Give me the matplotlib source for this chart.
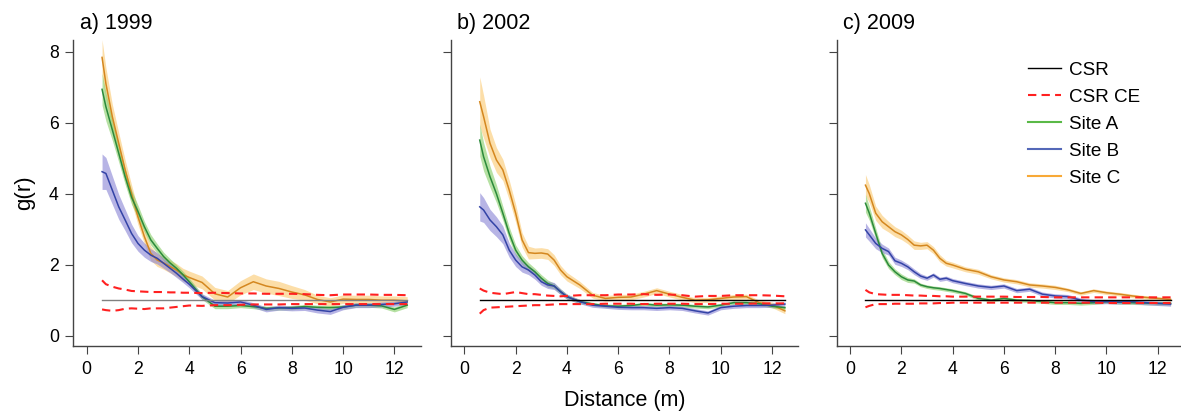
import matplotlib

matplotlib.use("Agg")
import matplotlib.pyplot as plt
from matplotlib.lines import Line2D
import numpy as np

plt.rcParams["font.family"] = ["Liberation Sans", "DejaVu Sans"]

# distance grid (m) shared by all curves
distance = [0.6, 0.75, 1.0, 1.25, 1.5, 1.75, 2.0, 2.25, 2.5, 2.75, 3.0, 3.25, 3.5, 3.75,
            4.0, 4.5, 5.0, 5.5, 6.0, 6.5, 7.0, 7.5, 8.0, 8.5, 9.0, 9.5, 10.0, 10.5,
            11.0, 11.5, 12.0, 12.5]

years = ["a) 1999", "b) 2002", "c) 2009"]
sites = ["Site A", "Site B", "Site C"]

# ---- 1999 ----
site_a_1999 = [6.94, 6.45, 5.8, 5.14, 4.48, 3.9, 3.5, 3.07, 2.7, 2.46, 2.23, 2.05, 1.9, 1.72,
               1.52, 1.1, 0.83, 0.83, 0.85, 0.82, 0.77, 0.78, 0.79, 0.82, 0.8, 0.79, 0.81,
               0.86, 0.86, 0.84, 0.74, 0.86]
site_b_1999 = [4.62, 4.57, 4.1, 3.63, 3.26, 2.88, 2.6, 2.41, 2.27, 2.18, 2.04, 1.9, 1.76, 1.6,
               1.45, 1.1, 0.93, 0.92, 0.95, 0.86, 0.74, 0.79, 0.77, 0.78, 0.72, 0.68, 0.8,
               0.86, 0.86, 0.88, 0.9, 0.95]
site_c_1999 = [7.84, 7.1, 6.17, 5.42, 4.67, 4.0, 3.35, 2.79, 2.32, 2.13, 2.05, 1.95, 1.85, 1.72,
               1.64, 1.5, 1.18, 1.09, 1.35, 1.52, 1.4, 1.33, 1.23, 1.15, 1.02, 0.95, 1.03,
               1.02, 1.02, 1.0, 1.0, 0.98]
site_a_1999_ci = [0.45, 0.4, 0.3, 0.25, 0.22, 0.2, 0.18, 0.15, 0.15, 0.13, 0.12, 0.12, 0.1, 0.1,
                  0.1, 0.08, 0.07, 0.07, 0.06, 0.06, 0.06, 0.06, 0.06, 0.06, 0.06, 0.06, 0.06,
                  0.06, 0.06, 0.06, 0.07, 0.07]
site_b_1999_ci = [0.5, 0.45, 0.4, 0.35, 0.3, 0.26, 0.22, 0.2, 0.18, 0.16, 0.14, 0.12, 0.12, 0.1,
                  0.1, 0.08, 0.07, 0.07, 0.07, 0.07, 0.07, 0.07, 0.07, 0.07, 0.08, 0.08, 0.07,
                  0.07, 0.07, 0.07, 0.07, 0.07]
site_c_1999_ci = [0.5, 0.45, 0.35, 0.3, 0.28, 0.25, 0.22, 0.2, 0.2, 0.18, 0.18, 0.18, 0.18, 0.18,
                  0.18, 0.18, 0.18, 0.18, 0.2, 0.22, 0.2, 0.2, 0.18, 0.15, 0.12, 0.12, 0.12,
                  0.12, 0.12, 0.12, 0.12, 0.12]
csr_hi_1999 = [1.56, 1.45, 1.38, 1.33, 1.3, 1.26, 1.25, 1.24, 1.23, 1.23, 1.23, 1.22, 1.22, 1.21,
               1.21, 1.2, 1.21, 1.2, 1.19, 1.19, 1.18, 1.18, 1.18, 1.17, 1.15, 1.14, 1.16, 1.16,
               1.16, 1.15, 1.15, 1.14]
csr_lo_1999 = [0.74, 0.72, 0.7, 0.72, 0.76, 0.77, 0.76, 0.75, 0.77, 0.77, 0.77, 0.79, 0.81, 0.83,
               0.85, 0.84, 0.86, 0.86, 0.87, 0.88, 0.88, 0.88, 0.89, 0.89, 0.89, 0.89, 0.89, 0.89,
               0.89, 0.89, 0.89, 0.89]

# ---- 2002 ----
site_a_2002 = [5.51, 5.04, 4.48, 4.0, 3.45, 2.88, 2.41, 2.13, 1.94, 1.8, 1.62, 1.47, 1.4, 1.24,
               1.1, 0.96, 0.89, 0.84, 0.83, 0.85, 0.89, 0.86, 0.87, 0.86, 0.83, 0.81, 0.86,
               0.93, 0.93, 0.9, 0.83, 0.79]
site_b_2002 = [3.63, 3.54, 3.26, 3.07, 2.84, 2.41, 2.13, 1.94, 1.85, 1.71, 1.52, 1.43, 1.4, 1.24,
               1.1, 0.96, 0.86, 0.83, 0.8, 0.79, 0.79, 0.77, 0.79, 0.77, 0.7, 0.64, 0.79, 0.83,
               0.85, 0.85, 0.86, 0.89]
site_c_2002 = [6.59, 6.17, 5.42, 4.95, 4.67, 4.1, 3.45, 2.7, 2.34, 2.32, 2.33, 2.3, 2.13, 1.85,
               1.66, 1.43, 1.14, 1.05, 1.08, 1.09, 1.17, 1.27, 1.17, 1.08, 1.0, 1.01, 1.05, 1.09,
               1.1, 0.93, 0.87, 0.7]
site_a_2002_ci = [0.45, 0.4, 0.3, 0.25, 0.2, 0.18, 0.15, 0.13, 0.12, 0.1, 0.1, 0.1, 0.08, 0.08,
                  0.07, 0.06, 0.05, 0.05, 0.05, 0.05, 0.05, 0.05, 0.05, 0.05, 0.05, 0.05, 0.05,
                  0.05, 0.05, 0.05, 0.05, 0.05]
site_b_2002_ci = [0.4, 0.35, 0.3, 0.28, 0.25, 0.2, 0.18, 0.15, 0.13, 0.12, 0.1, 0.1, 0.1, 0.08,
                  0.07, 0.06, 0.06, 0.06, 0.06, 0.06, 0.06, 0.06, 0.06, 0.06, 0.06, 0.06, 0.06,
                  0.06, 0.06, 0.06, 0.06, 0.06]
site_c_2002_ci = [0.7, 0.6, 0.4, 0.35, 0.3, 0.28, 0.25, 0.2, 0.18, 0.15, 0.15, 0.15, 0.15, 0.13,
                  0.12, 0.1, 0.08, 0.08, 0.08, 0.08, 0.08, 0.08, 0.08, 0.08, 0.07, 0.07, 0.07,
                  0.07, 0.07, 0.07, 0.08, 0.08]
csr_hi_2002 = [1.33, 1.27, 1.21, 1.19, 1.17, 1.2, 1.23, 1.2, 1.17, 1.17, 1.15, 1.13, 1.12, 1.11,
               1.12, 1.14, 1.14, 1.14, 1.16, 1.16, 1.17, 1.15, 1.16, 1.14, 1.1, 1.12, 1.12, 1.14,
               1.14, 1.14, 1.13, 1.11]
csr_lo_2002 = [0.62, 0.72, 0.79, 0.8, 0.81, 0.82, 0.83, 0.84, 0.85, 0.86, 0.86, 0.87, 0.88, 0.89,
               0.89, 0.89, 0.89, 0.9, 0.9, 0.9, 0.89, 0.9, 0.9, 0.9, 0.89, 0.89, 0.9, 0.9, 0.9,
               0.91, 0.91, 0.91]

# ---- 2009 ----
site_a_2009 = [3.73, 3.45, 2.88, 2.32, 1.99, 1.8, 1.66, 1.57, 1.54, 1.43, 1.38, 1.35, 1.33, 1.3,
               1.27, 1.19, 1.05, 1.0, 1.05, 1.0, 0.99, 0.96, 0.93, 0.93, 0.91, 0.93, 0.96, 0.94,
               0.93, 0.92, 0.91, 0.91]
site_b_2009 = [2.98, 2.84, 2.6, 2.46, 2.37, 2.11, 2.04, 1.94, 1.8, 1.68, 1.62, 1.71, 1.59, 1.62,
               1.55, 1.47, 1.4, 1.36, 1.4, 1.27, 1.31, 1.17, 1.12, 1.1, 1.0, 0.96, 0.96, 0.95,
               0.96, 0.93, 0.91, 0.89]
site_c_2009 = [4.24, 4.0, 3.45, 3.21, 3.07, 2.93, 2.84, 2.71, 2.55, 2.53, 2.55, 2.41, 2.18, 2.04,
               1.99, 1.87, 1.8, 1.66, 1.57, 1.52, 1.43, 1.4, 1.36, 1.29, 1.19, 1.27, 1.21, 1.17,
               1.12, 1.08, 1.05, 1.02]
site_a_2009_ci = [0.25, 0.2, 0.15, 0.12, 0.1, 0.08, 0.08, 0.07, 0.06, 0.05, 0.05, 0.05, 0.05,
                  0.05, 0.05, 0.05, 0.05, 0.05, 0.05, 0.05, 0.05, 0.05, 0.05, 0.05, 0.05, 0.05,
                  0.05, 0.05, 0.05, 0.05, 0.05, 0.05]
site_b_2009_ci = [0.2, 0.18, 0.15, 0.12, 0.1, 0.1, 0.09, 0.08, 0.08, 0.07, 0.06, 0.06, 0.06,
                  0.06, 0.06, 0.06, 0.06, 0.06, 0.06, 0.06, 0.06, 0.06, 0.06, 0.06, 0.06, 0.06,
                  0.06, 0.06, 0.06, 0.06, 0.06, 0.06]
site_c_2009_ci = [0.3, 0.25, 0.2, 0.18, 0.15, 0.14, 0.13, 0.12, 0.12, 0.1, 0.1, 0.1, 0.1, 0.08,
                  0.08, 0.07, 0.07, 0.06, 0.06, 0.06, 0.06, 0.06, 0.06, 0.05, 0.05, 0.05, 0.05,
                  0.05, 0.05, 0.05, 0.05, 0.05]
csr_hi_2009 = [1.29, 1.22, 1.17, 1.16, 1.15, 1.15, 1.15, 1.14, 1.13, 1.13, 1.12, 1.12, 1.11, 1.11,
               1.1, 1.1, 1.1, 1.1, 1.1, 1.09, 1.09, 1.09, 1.08, 1.08, 1.08, 1.08, 1.08, 1.08,
               1.08, 1.08, 1.08, 1.08]
csr_lo_2009 = [0.8, 0.84, 0.89, 0.89, 0.89, 0.9, 0.9, 0.9, 0.9, 0.91, 0.91, 0.91, 0.92, 0.92,
               0.93, 0.93, 0.93, 0.93, 0.93, 0.93, 0.93, 0.93, 0.93, 0.93, 0.93, 0.93, 0.92, 0.92,
               0.92, 0.92, 0.92, 0.92]

panels = [
    ([site_a_1999, site_b_1999, site_c_1999],
     [site_a_1999_ci, site_b_1999_ci, site_c_1999_ci], csr_hi_1999, csr_lo_1999),
    ([site_a_2002, site_b_2002, site_c_2002],
     [site_a_2002_ci, site_b_2002_ci, site_c_2002_ci], csr_hi_2002, csr_lo_2002),
    ([site_a_2009, site_b_2009, site_c_2009],
     [site_a_2009_ci, site_b_2009_ci, site_c_2009_ci], csr_hi_2009, csr_lo_2009),
]

line_colors = ["#2b8a3b", "#3343a6", "#d4871f"]
band_colors = ["#86cd66", "#8883d4", "#fbc86e"]
legend_colors = ["#5ab947", "#5468b8", "#f8a937"]
csr_colors = ["#808080", "black", "black"]

fig = plt.figure(figsize=(11.81, 4.11), dpi=100)
x = np.array(distance)

lefts = [0.0621, 0.3819, 0.7085]
axes = []
for i, (curves, cis, hi, lo) in enumerate(panels):
    ax = fig.add_axes([lefts[i], 0.1582, 0.2942, 0.7445])
    axes.append(ax)

    # Site C band first (bottom), then A and B
    for k in [2, 0, 1]:
        y = np.array(curves[k])
        e = np.array(cis[k])
        ax.fill_between(x, y - e, y + e, color=band_colors[k], alpha=0.6, lw=0)
    for k in [2, 0, 1]:
        ax.plot(x, curves[k], color=line_colors[k], lw=1.1)

    ax.plot([x[0], x[-1]], [1, 1], color=csr_colors[i], lw=1.0)
    ax.plot(x, hi, color="#ff2020", lw=1.5, dashes=(4, 2.5))
    ax.plot(x, lo, color="#ff2020", lw=1.5, dashes=(4, 2.5))

    ax.set_xlim(-0.52, 13.03)
    ax.set_ylim(-0.29, 8.33)
    ax.set_xticks([0, 2, 4, 6, 8, 10, 12])
    ax.set_yticks([0, 2, 4, 6, 8])
    ax.spines["top"].set_visible(False)
    ax.spines["right"].set_visible(False)
    for s in ["left", "bottom"]:
        ax.spines[s].set_color("#444444")
        ax.spines[s].set_linewidth(1.0)
    ax.tick_params(length=5.5, width=0.8, color="#444444", labelsize=12.7, pad=5)
    if i > 0:
        ax.tick_params(axis="y", labelleft=False)
    ax.text(0.018, 1.036, years[i], transform=ax.transAxes, fontsize=15.5,
            va="baseline", ha="left")

handles = [
    Line2D([], [], color="black", lw=1.0),
    Line2D([], [], color="#ff2020", lw=1.5, dashes=(4, 2.5)),
    Line2D([], [], color=legend_colors[0], lw=1.5),
    Line2D([], [], color=legend_colors[1], lw=1.5),
    Line2D([], [], color=legend_colors[2], lw=1.5),
]
labels = ["CSR", "CSR CE"] + sites
axes[2].legend(handles, labels, loc="upper left", bbox_to_anchor=(0.551, 0.93),
               frameon=False, fontsize=13.6, handlelength=1.73, handletextpad=0.44,
               labelspacing=0.52, borderpad=0, borderaxespad=0)

fig.text(25 / 1181, 0.5304, "g(r)", rotation=90, fontsize=16, ha="center", va="center")
fig.text(0.5288, 0.012, "Distance (m)", fontsize=15.5, ha="center", va="baseline")

fig.savefig("out.png", dpi=100)
